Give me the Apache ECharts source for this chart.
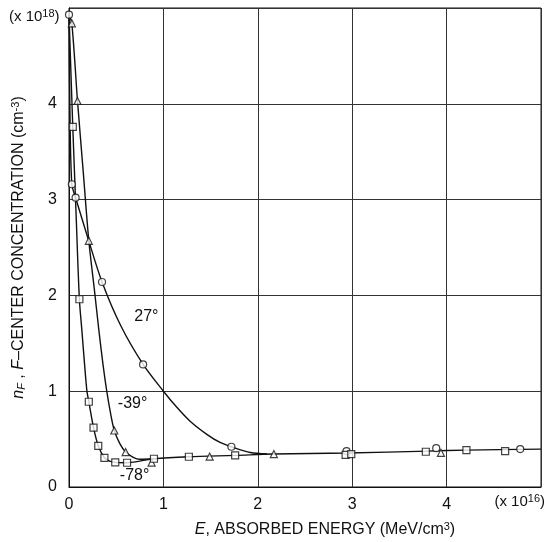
<!DOCTYPE html>
<html>
<head>
<meta charset="utf-8">
<script src="https://cdn.jsdelivr.net/npm/echarts@6/dist/echarts.min.js"></script>
<style>
  html, body { margin: 0; padding: 0; background: #fff; }
  #charts { width: 546px; height: 542px; }
</style>
</head>
<body>
<div id="charts"></div>
<script>
// 数据 (x: E in 1e16 MeV/cm3, y: n_F in 1e18 cm-3)
const xTicks = ['0', '1', '2', '3', '4']
const yTicks = ['0', '1', '2', '3', '4']

// measured points
const circles27 = [[0, 4.93], [0.03, 3.16], [0.07, 3.02], [0.35, 2.14], [0.785, 1.28], [1.72, 0.42], [2.94, 0.375], [3.89, 0.405], [4.78, 0.396]]
const triangles39 = [[0.03, 4.84], [0.09, 4.03], [0.21, 2.57], [0.48, 0.59], [0.6, 0.365], [0.875, 0.255], [1.49, 0.318], [2.17, 0.344], [3.94, 0.357]]
const squares78 = [[0.04, 3.76], [0.11, 1.96], [0.21, 0.89], [0.26, 0.62], [0.31, 0.43], [0.375, 0.305], [0.49, 0.257], [0.615, 0.253], [0.9, 0.295], [1.27, 0.316], [1.76, 0.33], [2.93, 0.336], [2.99, 0.344], [3.78, 0.368], [4.21, 0.385], [4.62, 0.375]]

// drawn curves
const curve27 = [[0, 4.93], [0.01, 3.9], [0.03, 3.16], [0.07, 3.02], [0.2, 2.6], [0.35, 2.14], [0.55, 1.68], [0.785, 1.28], [1.0, 1.0], [1.14, 0.835], [1.28, 0.69], [1.46, 0.55], [1.6, 0.465], [1.72, 0.42], [1.92, 0.36], [2.1, 0.345]]
const curve39 = [[0, 4.93], [0.03, 4.84], [0.09, 4.03], [0.15, 3.3], [0.21, 2.57], [0.27, 2.05], [0.316, 1.64], [0.36, 1.28], [0.4, 1.0], [0.44, 0.77], [0.48, 0.59], [0.54, 0.45], [0.6, 0.365], [0.68, 0.31], [0.75, 0.29], [0.9, 0.295]]
const curve78 = [[0, 4.93], [0.04, 3.76], [0.075, 2.85], [0.11, 1.96], [0.136, 1.64], [0.165, 1.28], [0.19, 1.0], [0.21, 0.89], [0.26, 0.62], [0.31, 0.43], [0.375, 0.305], [0.43, 0.27], [0.49, 0.257], [0.615, 0.253], [0.75, 0.27], [0.9, 0.295], [1.27, 0.316], [1.76, 0.33], [2.16, 0.344], [2.95, 0.355], [3.8, 0.375], [4.21, 0.385], [5.0, 0.395]]

// curve labels
const curveLabels = ['27°', '-39°', '-78°']
const labelPos = [[0.82, 1.78], [0.674, 0.875], [0.695, 0.118]]

const font = 'Liberation Sans'
const myChart = echarts.init(document.getElementById('charts'))

const lineStyle = { color: '#111', width: 1.4 }
const markerStyle = { color: '#fff', borderColor: '#111', borderWidth: 1.2 }
const supStyle = { fontSize: 11, verticalAlign: 'top', padding: [0, 0, 6, 0], fontFamily: font }

let option = {
  animation: false,
  backgroundColor: '#fff',
  textStyle: { fontFamily: font, color: '#111' },
  grid: {
    left: 69, right: 5, top: 8, bottom: 55,
    outerBoundsMode: 'none', containLabel: false,
    show: true, borderColor: '#111', borderWidth: 1
  },
  xAxis: {
    type: 'value', min: 0, max: 5, interval: 1,
    axisLine: { show: true, lineStyle: { color: '#111' } },
    axisTick: { show: false },
    splitLine: { show: true, lineStyle: { color: '#333', width: 1 } },
    axisLabel: {
      margin: 10, fontSize: 16, color: '#111', fontFamily: font,
      formatter: (v) => v < 5 ? xTicks[v] : ''
    },
    name: '{it|E}, ABSORBED ENERGY (MeV/cm{sup|3})',
    nameLocation: 'middle', nameGap: 34,
    nameTextStyle: {
      fontSize: 16, color: '#111', fontFamily: font, padding: [0, 0, 0, 40],
      rich: {
        it: { fontSize: 16, fontStyle: 'italic', fontFamily: font },
        sup: supStyle
      }
    }
  },
  yAxis: {
    type: 'value', min: 0, max: 5, interval: 1,
    axisLine: { show: true, lineStyle: { color: '#111' } },
    axisTick: { show: false },
    splitLine: { show: true, lineStyle: { color: '#333', width: 1 } },
    axisLabel: {
      margin: 12, fontSize: 16, color: '#111', fontFamily: font,
      formatter: (v) => v < 5 ? yTicks[v] : ''
    },
    name: '{it|n}{sub|F} , {it|F}–CENTER CONCENTRATION (cm{sup|-3})',
    nameLocation: 'middle', nameGap: 42, nameRotate: 90,
    nameTextStyle: {
      fontSize: 16, color: '#111', fontFamily: font,
      rich: {
        it: { fontSize: 16, fontStyle: 'italic', fontFamily: font },
        sub: { fontSize: 11, fontStyle: 'italic', verticalAlign: 'bottom', padding: [6, 0, 0, 0], fontFamily: font },
        sup: supStyle
      }
    }
  },
  series: [
    { name: '27°', type: 'line', data: curve27, smooth: 0.3, showSymbol: false, lineStyle: lineStyle, z: 2 },
    { name: '-39°', type: 'line', data: curve39, smooth: 0.3, showSymbol: false, lineStyle: lineStyle, z: 2 },
    { name: '-78°', type: 'line', data: curve78, smooth: 0.3, showSymbol: false, lineStyle: lineStyle, z: 2 },
    { name: '27° pts', type: 'scatter', data: circles27, symbol: 'circle', symbolSize: 7, itemStyle: markerStyle, z: 5 },
    { name: '-39° pts', type: 'scatter', data: triangles39, symbol: 'triangle', symbolSize: 7, itemStyle: markerStyle, z: 5 },
    { name: '-78° pts', type: 'scatter', data: squares78, symbol: 'rect', symbolSize: 7, itemStyle: markerStyle, z: 5 }
  ]
}
myChart.setOption(option)

// multipliers and curve labels
let graphics = [
  {
    type: 'text', left: 9, top: 8,
    style: { text: '(x 10{sup|18})', fontSize: 15, fontFamily: font, fill: '#111', rich: { sup: supStyle } }
  },
  {
    type: 'text', right: 1, top: 493,
    style: { text: '(x 10{sup|16})', fontSize: 15, fontFamily: font, fill: '#111', rich: { sup: supStyle } }
  }
]
for (let i = 0; i < curveLabels.length; i++) {
  const p = myChart.convertToPixel({ gridIndex: 0 }, labelPos[i])
  graphics.push({
    type: 'text', x: p[0], y: p[1],
    style: { text: curveLabels[i], fontSize: 16, fontFamily: font, fill: '#111', align: 'center', verticalAlign: 'middle' }
  })
}
myChart.setOption({ graphic: graphics })
</script>
</body>
</html>
